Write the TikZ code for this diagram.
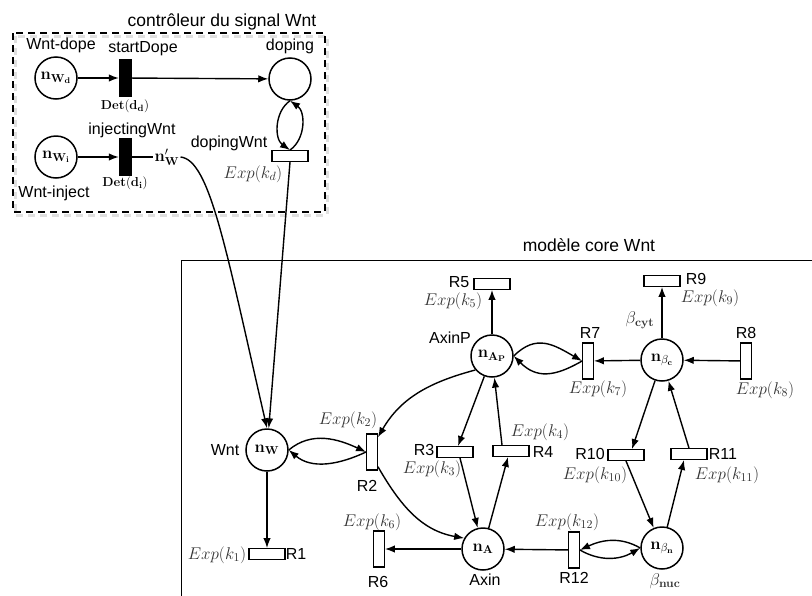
\documentclass[tikz,border=0pt]{standalone}
\usepackage{fix-cm}
\usepackage[no-math]{fontspec}
\setmainfont{Liberation Sans}
\usetikzlibrary{arrows.meta,calc}
\begin{document}
\begin{tikzpicture}[x=1pt,y=1pt,
  place/.style={circle,draw,line width=1.5pt,minimum size=42pt,inner sep=0pt,font=\fontsize{16.5}{18}\selectfont},
  htr/.style={draw,line width=1.4pt,minimum width=36pt,minimum height=10.5pt,inner sep=0pt,fill=white},
  vtr/.style={draw,line width=1.4pt,minimum width=10.5pt,minimum height=36pt,inner sep=0pt,fill=white},
  btr/.style={draw,fill=black,minimum width=12pt,minimum height=37pt,inner sep=0pt},
  lbl/.style={inner sep=0pt,font=\fontsize{16}{18}\selectfont},
  ttl/.style={inner sep=0pt,font=\fontsize{17.5}{20}\selectfont},
  rate/.style={inner sep=0pt,text=black!80,font=\fontsize{17}{20}\selectfont},
  det/.style={inner sep=0pt,font=\fontsize{13}{15}\selectfont},
  arc/.style={line width=1.4pt,-{Latex[length=10pt,width=7.5pt]}},
  plain/.style={line width=1.4pt},
  ctrlbox/.style={line width=1.6pt,dash pattern=on 7pt off 5pt},
  ctrlshadow/.style={line width=3pt,black!12,dash pattern=on 7pt off 5pt},
  corebox/.style={line width=1pt},
]
\useasboundingbox (0,0) rectangle (812,-595);

% ---------------- controller ----------------
\node[ttl] (t1) at (222,-22) {contrôleur du signal Wnt};
\draw[ctrlshadow] (15,-36) rectangle (327,-215);
\draw[ctrlbox] (13,-33) rectangle (325,-212);

\node[place] (nWd) at (56,-78) {$\mathbf{n_{W_d}}$};
\node[btr] (sD) at (125,-78) {};
\node[place] (dop) at (290,-79) {};
\node[place] (nWi) at (56,-157) {$\mathbf{n_{W_i}}$};
\node[btr] (iW) at (125,-157) {};
\node[htr] (dW) at (290,-156) {};

\node[lbl] (lWd) at (61,-45) {Wnt-dope};
\node[lbl] (lsD) at (143,-49) {startDope};
\node[lbl] (ldop) at (290,-46) {doping};
\node[det] (ldd) at (125,-106) {$\mathbf{Det(d_d)}$};
\node[lbl] (liW) at (132,-130) {injectingWnt};
\node[lbl] (ldW) at (229,-143) {dopingWnt};
\node[inner sep=1pt,font=\fontsize{16.5}{18}\selectfont] (nWp) at (167,-157) {$\mathbf{n'_W}$};
\node[det] (ldi) at (125,-183) {$\mathbf{Det(d_i)}$};
\node[rate] (lkd) at (253,-174) {$Exp(k_d)$};
\node[lbl] (lWi) at (54,-193) {Wnt-inject};

% ---------------- core ----------------
\node[ttl] (t2) at (589,-245) {modèle core Wnt};
\draw[corebox] (181,-600) -- (181,-260) -- (820,-260);

\node[place] (nW) at (267,-450) {$\mathbf{n_W}$};
\node[place] (nAP) at (492,-356) {$\mathbf{n_{A_P}}$};
\node[place] (nbc) at (662,-360) {$\mathbf{n}_{\beta_{\mathbf{c}}}$};
\node[place] (nA) at (483,-549) {$\mathbf{n_A}$};
\node[place] (nbn) at (662,-548) {$\mathbf{n}_{\beta_{\mathbf{n}}}$};

\node[htr] (R1) at (267,-554) {};
\node[vtr] (R2) at (372,-452) {};
\node[htr] (R3) at (455,-452) {};
\node[htr] (R4) at (511,-451) {};
\node[htr] (R5) at (492,-284) {};
\node[vtr] (R6) at (379,-549) {};
\node[vtr] (R7) at (588,-361) {};
\node[vtr] (R8) at (746,-361) {};
\node[htr] (R9) at (662,-281) {};
\node[htr] (R10) at (626,-455) {};
\node[htr] (R11) at (689,-454) {};
\node[vtr] (R12) at (574,-550) {};

% labels
\node[lbl] (lR5) at (459,-282) {R5};
\node[rate] (lk5) at (453,-301) {$Exp(k_5)$};
\node[lbl] (lAP) at (450,-338) {AxinP};
\node[lbl] (lR9) at (696,-279) {R9};
\node[rate] (lk9) at (710,-298) {$Exp(k_9)$};
\node[rate] (lbc) at (640,-320) {$\beta_{\mathbf{cyt}}$};
\node[lbl] (lR7) at (590,-333) {R7};
\node[rate] (lk7) at (598,-389) {$Exp(k_7)$};
\node[lbl] (lR8) at (746,-333) {R8};
\node[rate] (lk8) at (765,-390) {$Exp(k_8)$};
\node[rate] (lk2) at (348,-420) {$Exp(k_2)$};
\node[lbl] (lR2) at (367,-486) {R2};
\node[lbl] (lW) at (225,-450) {Wnt};
\node[lbl] (lR3) at (424,-450) {R3};
\node[rate] (lk3) at (432,-469) {$Exp(k_3)$};
\node[lbl] (lR4) at (543,-452) {R4};
\node[rate] (lk4) at (540,-432) {$Exp(k_4)$};
\node[lbl] (lR10) at (590,-454) {R10};
\node[rate] (lk10) at (595,-475) {$Exp(k_{10})$};
\node[lbl] (lR11) at (723,-454) {R11};
\node[rate] (lk11) at (727,-475) {$Exp(k_{11})$};
\node[rate] (lk6) at (372,-522) {$Exp(k_6)$};
\node[lbl] (lR6) at (378,-582) {R6};
\node[rate] (lk12) at (567,-522) {$Exp(k_{12})$};
\node[lbl] (lR12) at (574,-578) {R12};
\node[rate] (lk1) at (217,-555) {$Exp(k_1)$};
\node[lbl] (lR1) at (296,-554) {R1};
\node[lbl] (lA) at (485,-580) {Axin};
\node[rate] (lbn) at (665,-581) {$\beta_{\mathbf{nuc}}$};

% ---------------- arcs: controller ----------------
\draw[arc] (nWd) -- (sD);
\draw[arc] (sD) -- (dop);
\draw[arc] (nWi) -- (iW);
\draw[plain] (iW) -- (nWp);
\draw[arc] (dop.south) to[out=215,in=145] (dW.north);
\draw[arc] (dW.north) to[out=35,in=-35] (dop.south);
\draw[arc] (nWp.east) .. controls (210,-160) and (226,-250) .. (nW.north);
\draw[arc] (dW.south) -- (nW);

% ---------------- arcs: core ----------------
\draw[arc] (nW.east) to[out=40,in=155] (R2.west);
\draw[arc] (R2.west) to[out=205,in=-40] (nW.east);
\draw[arc] (nW) -- (R1);
\draw[arc] (nAP.220) to[out=195,in=60] ([yshift=-4pt]R2.north east);
\draw[arc] ([yshift=4pt]R2.south east) to[out=-60,in=170] (nA.150);
\draw[arc] (nAP) -- (R5);
\draw[arc] (nAP.east) to[out=45,in=150,looseness=1.2] (R7.west);
\draw[arc] (R7.west) to[out=210,in=-45,looseness=1.2] (nAP.east);
\draw[arc] (nbc) -- (R7);
\draw[arc] (R8) -- (nbc);
\draw[arc] (nbc) -- (R9);
\draw[arc] (nAP) -- ([xshift=3pt]R3.north);
\draw[arc] ([xshift=5pt]R3.south) -- (nA);
\draw[arc] (nA) -- ([xshift=-3pt]R4.south);
\draw[arc] ([xshift=-9pt]R4.north) -- (nAP);
\draw[arc] (nbc) -- ([xshift=6pt]R10.north);
\draw[arc] (R10.south) -- (nbn);
\draw[arc] (nbn) -- ([xshift=-5pt]R11.south);
\draw[arc] (R11.north) -- (nbc);
\draw[arc] (nA) -- (R6);
\draw[arc] (R12) -- (nA);
\draw[arc] (nbn.west) to[out=150,in=25] (R12.east);
\draw[arc] (R12.east) to[out=-30,in=210] (nbn.west);
\end{tikzpicture}
\end{document}
